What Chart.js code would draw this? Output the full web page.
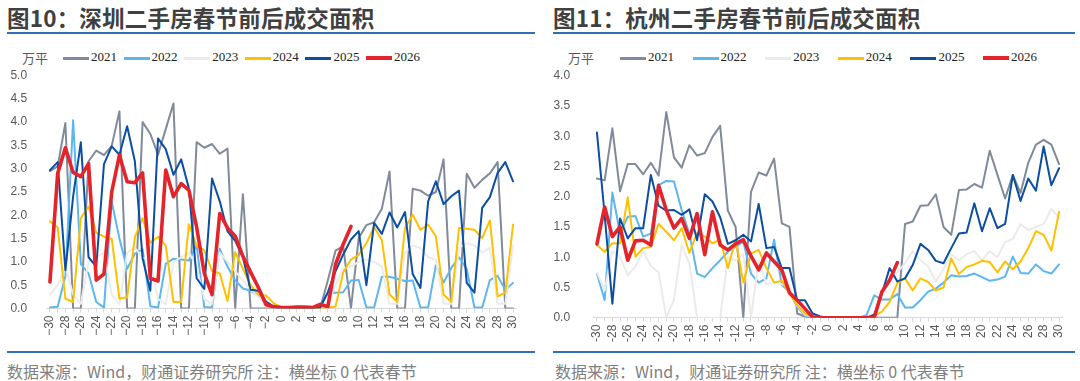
<!DOCTYPE html>
<html><head><meta charset="utf-8">
<script src="https://cdn.jsdelivr.net/npm/chart.js@4.4.1/dist/chart.umd.min.js"></script>
<style>
body{margin:0;width:1080px;height:381px;background:#fff;position:relative;overflow:hidden;font-family:"Noto Sans CJK SC",sans-serif;}
.title{position:absolute;top:1px;font-size:22.5px;font-weight:700;color:#404040;white-space:nowrap;letter-spacing:0.2px;}
.rule{position:absolute;height:2px;background:#2e6fb7;}
.note{position:absolute;top:359px;font-size:16px;color:#808080;white-space:nowrap;}
.unit{position:absolute;top:48px;font-size:13px;color:#595959;}
.leg{position:absolute;top:49px;font-family:"Liberation Serif",serif;font-size:13px;color:#222;white-space:nowrap;}
.legline{position:absolute;}
canvas{position:absolute;top:0;}
</style></head>
<body>
<div class="title" style="left:7px">图10：深圳二手房春节前后成交面积</div>
<div class="title" style="left:553px">图11：杭州二手房春节前后成交面积</div>
<div class="rule" style="left:7px;width:528px;top:32px"></div>
<div class="rule" style="left:553px;width:522px;top:32px"></div>
<div class="unit" style="left:22px">万平</div>
<div class="unit" style="left:568px">万平</div>
<div id="legL"></div><div id="legR"></div>
<canvas id="c1" width="540" height="350" style="left:0"></canvas>
<canvas id="c2" width="540" height="350" style="left:540px"></canvas>
<div class="rule" style="left:7px;width:528px;top:351px;height:1.5px"></div>
<div class="rule" style="left:553px;width:522px;top:351px;height:1.5px"></div>
<div class="note" style="left:7px">数据来源：Wind，财通证券研究所 注：横坐标 0 代表春节</div>
<div class="note" style="left:555px">数据来源：Wind，财通证券研究所 注：横坐标 0 代表春节</div>
<script>
const xLabels = [-30,-29,-28,-27,-26,-25,-24,-23,-22,-21,-20,-19,-18,-17,-16,-15,-14,-13,-12,-11,-10,-9,-8,-7,-6,-5,-4,-3,-2,-1,0,1,2,3,4,5,6,7,8,9,10,11,12,13,14,15,16,17,18,19,20,21,22,23,24,25,26,27,28,29,30];
const years = ['2021','2022','2023','2024','2025','2026'];

// 深圳 (Shenzhen)
const sz2021 = [2.95,3.05,3.98,0,0,3.16,3.39,3.29,3.49,4.23, 0,0,4.0,3.75,3.3,3.85,4.4,0,0,3.57, 3.45,3.53,3.32,3.43,0,2.45,0,0,0,0, 0, 0,0,0,0,0,0.6,1.24,1.34,0,1.51, 1.79,1.85,2.14,2.94,0,0,2.57,2.53,2.42,2.5, 3.2,0,0,2.89,2.59,2.76,2.9,3.14,0,0];
const sz2022 = [0.02,0.04,0.7,4.04,0.96,0.75,0.14,0.02,2.3,1.5, 0.85,1.18,1.27,0.05,0.02,0.96,1.07,1.05,1.03,1.36, 0.03,0.02,1.28,0.9,0.6,0.43,0.38,0.27,0.1,0.03, 0.01, 0,0,0,0,0.05,0.33,0.34,0.35,0.6,0.61, 0.02,0.02,0.68,0.68,0.64,0.59,0.6,0.02,0.02,0.93, 0.56,0.87,1.1,0.85,0.02,0.02,0.61,0.7,0.4,0.55];
const sz2023 = [0.3,0.5,0.9,0.3,0.1,1.0,1.1,1.2,0.3,0.1, 1.2,1.3,1.1,1.0,0.2,0.1,1.0,1.1,1.2,0.9, 0.2,0.1,1.2,1.0,0.8,0.6,0.4,0.25,0.1,0.05, 0.02, 0,0,0,0,0.02,0.1,0.5,0.85,0.9,1.0, 1.05,1.0,0.9,0.1,0.1,1.2,1.35,1.3,1.1,1.05, 0.1,0.1,1.3,1.4,1.35,1.2,1.3,0.1,0.1,1.35];
const sz2024 = [1.87,1.74,0.21,0.14,1.94,2.19,1.63,1.54,1.5,0.21, 0.24,1.53,1.94,1.41,1.54,1.35,0.14,0.14,1.81,1.35, 1.25,0.81,0.75,0.16,1.21,0.85,0.5,0.29,0.28,0.11, 0.03, 0.01,0.01,0.01,0.01,0.01,0.02,0.04,0.78,1.05,1.15, 1.4,1.75,1.47,0.3,0.14,1.73,2.01,1.69,1.8,1.55, 0.3,0.14,1.73,1.71,1.69,1.51,1.89,0.26,0.34,1.8];
const sz2025 = [2.97,3.14,0.82,2.4,3.57,1.1,0.9,3.1,3.48,3.3, 3.91,3.16,1.08,0.38,3.65,3.42,2.87,3.2,2.58,0.65, 0.42,2.79,2.3,1.66,1.45,1.1,0.4,0.38,0.15,0.04, 0.02, 0.01,0.01,0.01,0.01,0.02,0.35,0.8,1.16,1.48,1.66, 0.5,1.84,1.6,2.06,1.74,2.07,0.74,0.44,2.3,2.73, 2.24,2.41,2.53,0.55,0.34,2.16,2.39,2.91,3.14,2.73];
const sz2026 = [0.57,2.9,3.45,2.92,2.83,3.11,0.61,0.74,2.5,3.29, 2.72,2.7,2.91,0.65,0.59,2.97,2.4,2.68,2.54,1.75, 0.75,0.3,2.04,1.73,1.55,1.12,0.78,0.45,0.08,0.04, 0.02, 0.02,0.03,0.03,0.02,0.09,0.04,0.95,1.38,1.76, null, null,null,null,null,null,null,null,null,null,null, null,null,null,null,null,null,null,null,null,null];

// 杭州 (Hangzhou)
const hz2021 = [2.3,2.27,3.13,2.09,2.54,2.54,2.37,2.56,2.35,3.4, 2.65,2.48,2.85,2.68,2.72,2.99,3.17,1.77,1.5,0, 2.08,2.4,2.35,2.63,1.56,1.5,0.07,0.02,0,0, 0, 0,0,0,0,0,0,0,0,0,1.55, 1.59,1.85,1.86,2.04,1.5,1.37,2.11,2.12,2.21,2.15, 2.76,2.36,1.97,2.36,2.06,2.56,2.86,2.94,2.86,2.54];
const hz2022 = [0.73,0.29,2.07,1.39,1.67,1.68,1.34,1.39,2.19,2.26, 2.25,1.78,1.39,0.73,0.67,0.82,0.95,1.09,1.17,1.26, 0.73,0.58,0.65,1.29,0.54,0.43,0.18,0.03,0.02,0, 0, 0,0,0,0,0.04,0.37,0.3,0.3,0.39,0.17, 0.17,0.29,0.43,0.48,0.58,0.7,0.68,0.69,0.73,0.67, 0.61,0.63,0.68,1.01,0.74,0.73,0.88,0.77,0.73,0.88];
const hz2023 = [0.75,0.45,1.1,1.0,0.7,0.85,1.1,0.85,0.75,0, 0.3,1.2,0.9,0,0,0,0,1.0,0.95,1.05, 0,0.95,0.55,0.6,0.55,0.5,0.2,0.05,0.02,0, 0, 0,0,0,0,0,0.05,0.4,0.6,0.75,0.9, 1.1,0.95,0.85,0.6,0.8,1.05,0.95,1.05,1.1,0.95, 1.1,1.0,1.25,1.3,1.55,1.45,1.5,1.55,1.8,1.65];
const hz2024 = [1.2,1.09,1.23,1.23,1.99,1.01,1.15,1.17,1.55,1.42, 1.28,1.48,1.07,1.4,1.34,1.23,1.29,0.82,1.29,0.58, 1.06,1.12,0.82,0.58,0.61,0.4,0.21,0.07,0.02,0, 0, 0,0,0,0,0,0.03,0.1,0.26,0.57,0.65, 0.45,0.65,0.59,0.45,0.5,0.98,0.72,0.84,0.88,0.94, 0.92,0.75,0.93,0.8,0.93,1.15,1.43,1.37,1.11,1.75];
const hz2025 = [3.06,1.7,0.23,1.64,1.31,1.48,1.48,2.36,1.85,1.77, 1.78,1.7,1.79,1.28,2.04,1.92,1.66,1.22,1.28,1.37, 1.26,1.88,1.15,1.17,0.82,0.82,0.29,0.29,0.07,0.02, 0, 0,0,0,0,0,0.05,0.4,0.82,0.6,0.65, 0.87,1.22,1.12,0.94,0.9,1.15,1.39,1.41,1.89,1.43, 1.81,1.48,1.55,2.36,1.93,2.3,2.1,2.83,2.19,2.47];
const hz2026 = [1.22,1.83,1.34,1.5,0.95,1.27,1.28,1.2,2.19,1.78, 1.48,1.64,1.31,1.72,1.04,1.75,1.2,1.12,1.22,1.29, 1.02,0.79,1.07,0.93,0.79,0.41,0.29,0.15,0.01,0, 0, 0,0,0,0,0,0,0.43,0.62,0.91,null, null,null,null,null,null,null,null,null,null,null, null,null,null,null,null,null,null,null,null,null];

const colors = ['#7f8a9b','#5cb6f0','#ebebeb','#ffc000','#0c4ea2','#e3242b'];
const widths = [2,2,2,2,2,3.6];

function buildLegend(id, x0, step) {
  const box = document.getElementById(id);
  years.forEach((y, i) => {
    const l = document.createElement('div');
    l.className = 'legline';
    const lw = i === 5 ? 4 : 3;
    l.style.cssText = `left:${x0 + i*step}px;top:${58 - lw/2}px;width:26px;height:${lw}px;background:${colors[i]}`;
    box.appendChild(l);
    const t = document.createElement('div');
    t.className = 'leg';
    t.style.left = (x0 + i*step + 28) + 'px';
    t.textContent = y;
    box.appendChild(t);
  });
}
buildLegend('legL', 63, 60.6);
buildLegend('legR', 620, 72.6);

Chart.defaults.font.family = '"Liberation Sans", Arial, sans-serif';

function makeChart(id, series, yMax, cfg) {
  new Chart(document.getElementById(id), {
    type: 'line',
    data: {
      labels: xLabels,
      datasets: series.map((d, i) => ({
        label: years[i], data: d, borderColor: colors[i], backgroundColor: colors[i],
        borderWidth: widths[i], pointRadius: 0, tension: 0, order: 5 - i,
        borderJoinStyle: 'round', borderCapStyle: 'round', spanGaps: false
      }))
    },
    options: {
      responsive: false, animation: false,
      layout: { padding: { left: 0, right: cfg.padRight, top: cfg.padTop, bottom: 0 } },
      plugins: { legend: { display: false }, tooltip: { enabled: false } },
      scales: {
        x: {
          type: 'category', offset: true,
          grid: { display: true, drawOnChartArea: false, drawTicks: true, tickLength: 4, color: '#d9d9d9' },
          border: { display: true, color: '#d9d9d9', width: 1 },
          ticks: {
            autoSkip: false, minRotation: 90, maxRotation: 90, padding: 3,
            color: '#595959', font: { size: 12 },
            callback: function (v, idx) {
              if (idx % 2 !== 0) return '';
              const s = String(this.getLabelForValue(v));
              return cfg.minus ? s.replace('-', '\u2212') : s;
            }
          },
          afterFit: s => { s.height = cfg.xH; }
        },
        y: {
          min: 0, max: yMax,
          grid: { display: false },
          border: { display: false },
          ticks: { stepSize: 0.5, padding: cfg.yPad, color: '#595959', font: { size: 12 },
                   callback: v => v.toFixed(1) },
          afterFit: s => { s.width = cfg.yW; }
        }
      }
    }
  });
}

makeChart('c1', [sz2021, sz2022, sz2023, sz2024, sz2025, sz2026], 5,
  { padRight: 23.1, padTop: 75.5, xH: 350 - 308.5, yW: 46.1, yPad: 11, minus: true });
makeChart('c2', [hz2021, hz2022, hz2023, hz2024, hz2025, hz2026], 4,
  { padRight: 17.1, padTop: 75.7, xH: 350 - 317.7, yW: 53.1, yPad: 15, minus: false });
</script>
</body></html>
